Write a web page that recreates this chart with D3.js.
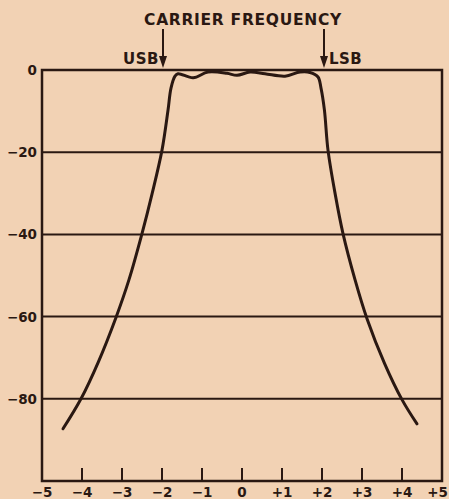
<!DOCTYPE html>
<html>
<head>
<meta charset="utf-8">
<script src="https://cdn.jsdelivr.net/npm/d3@7"></script>
<style>
body { margin:0; background:#f2d2b4; }
svg text { font-family:"DejaVu Sans", sans-serif; font-weight:bold; fill:#2a1812; }
</style>
</head>
<body>
<svg width="449" height="499"></svg>
<script>
// frequency offset (kHz) and response (dB)
var freq = [-4.475, -4.025, -3.59, -3.15, -2.825, -2.5, -2.25, -2.0, -1.85, -1.775, -1.675, -1.6, -1.22, -0.85, -0.375, -0.125, 0.2, 0.575, 1.075, 1.45, 1.7, 1.9, 1.975, 2.06, 2.15, 2.33, 2.525, 2.825, 3.125, 3.56, 4.0, 4.375];
var resp = [-87.3, -80, -71, -60.2, -51, -39.8, -30.2, -19.5, -9.8, -4.4, -1.5, -0.9, -1.9, -0.5, -0.8, -1.3, -0.5, -0.9, -1.5, -0.5, -0.6, -1.7, -4.4, -9.7, -19.5, -30.2, -39.8, -51, -60.5, -71.3, -80.2, -86.1];

var xTicks = [-5, -4, -3, -2, -1, 0, 1, 2, 3, 4, 5];
var yTicks = [0, -20, -40, -60, -80];

var ink = "#2a1812";
var svg = d3.select("svg");

var x = d3.scaleLinear().domain([-5, 5]).range([42, 442]);
var y = d3.scaleLinear().domain([0, -100]).range([70, 481]);

function lbl(v) {
  if (v < 0) return "\u2212" + Math.abs(v);
  if (v > 0) return "+" + v;
  return "0";
}

// gridlines
svg.append("g").selectAll("line")
  .data(yTicks.filter(function(d) { return d != 0; }))
  .enter().append("line")
  .attr("x1", x(-5)).attr("x2", x(5))
  .attr("y1", function(d) { return y(d); })
  .attr("y2", function(d) { return y(d); })
  .attr("stroke", ink).attr("stroke-width", 2);

// small ticks on the bottom
svg.append("g").selectAll("line")
  .data(xTicks.slice(1, -1))
  .enter().append("line")
  .attr("x1", function(d) { return x(d); })
  .attr("x2", function(d) { return x(d); })
  .attr("y1", y(-100)).attr("y2", y(-100) - 13)
  .attr("stroke", ink).attr("stroke-width", 2);

// frame
svg.append("rect")
  .attr("x", x(-5)).attr("y", y(0))
  .attr("width", x(5) - x(-5)).attr("height", y(-100) - y(0))
  .attr("fill", "none").attr("stroke", ink).attr("stroke-width", 2.5);

// y labels
svg.append("g").selectAll("text")
  .data(yTicks)
  .enter().append("text")
  .attr("x", 37)
  .attr("y", function(d) { return y(d) + 5; })
  .attr("text-anchor", "end")
  .attr("font-size", 13.5)
  .text(lbl);

// x labels (last one pulled in so it stays on the page)
svg.append("g").selectAll("text")
  .data(xTicks)
  .enter().append("text")
  .attr("x", function(d, i) { return i == xTicks.length - 1 ? 448 : x(d); })
  .attr("y", 497)
  .attr("text-anchor", function(d, i) { return i == xTicks.length - 1 ? "end" : "middle"; })
  .attr("font-size", 13.5)
  .text(lbl);

// response curve
var line = d3.line()
  .x(function(d) { return x(d[0]); })
  .y(function(d) { return y(d[1]); })
  .curve(d3.curveCatmullRom.alpha(0.5));

svg.append("path")
  .datum(d3.zip(freq, resp))
  .attr("d", line)
  .attr("fill", "none")
  .attr("stroke", ink)
  .attr("stroke-width", 3)
  .attr("stroke-linecap", "round");

// annotations
svg.append("text")
  .attr("x", 243).attr("y", 25)
  .attr("text-anchor", "middle")
  .attr("font-size", 15.5)
  .attr("letter-spacing", 0.7)
  .text("CARRIER FREQUENCY");

var arrows = [-2, 2];
arrows.forEach(function(a) {
  var ax = x(a) + (a < 0 ? 1 : 2);
  svg.append("line")
    .attr("x1", ax).attr("x2", ax)
    .attr("y1", 29).attr("y2", 60)
    .attr("stroke", ink).attr("stroke-width", 2);
  svg.append("path")
    .attr("d", "M" + (ax - 4) + ",56L" + (ax + 4) + ",56L" + ax + ",68Z")
    .attr("fill", ink);
});

svg.append("text")
  .attr("x", x(-2) - 3).attr("y", 64)
  .attr("text-anchor", "end")
  .attr("font-size", 15)
  .attr("letter-spacing", 0.5)
  .text("USB");

svg.append("text")
  .attr("x", x(2) + 7).attr("y", 64)
  .attr("font-size", 15)
  .attr("letter-spacing", 0.5)
  .text("LSB");
</script>
</body>
</html>
